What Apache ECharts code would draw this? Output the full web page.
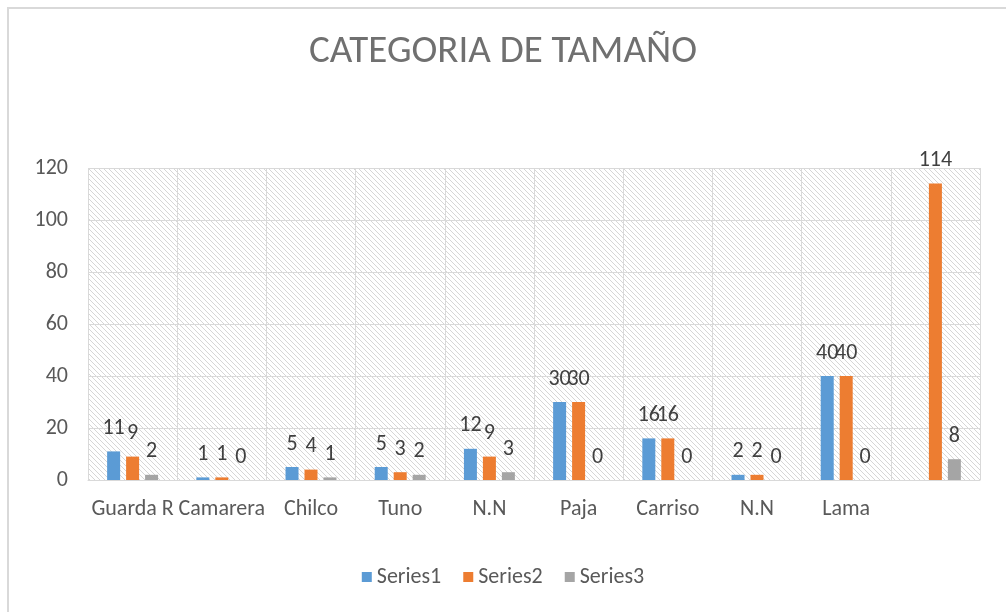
<!DOCTYPE html>
<html>
<head>
<meta charset="utf-8">
<script src="https://cdn.jsdelivr.net/npm/echarts@6/dist/echarts.min.js"></script>
<style>
  html, body { margin: 0; padding: 0; background: #fff; }
  #chart { width: 1006px; height: 612px; }
</style>
</head>
<body>
<div id="chart"></div>
<script>
// datos
var categorias = ['Guarda R', 'Camarera', 'Chilco', 'Tuno', 'N.N', 'Paja', 'Carriso', 'N.N', 'Lama', '']
var series1 = [11, 1, 5, 5, 12, 30, 16, 2, 40, null]
var series2 = [9, 1, 4, 3, 9, 30, 16, 2, 40, 114]
var series3 = [2, 0, 1, 2, 3, 0, 0, 0, 0, 8]
var yTicks = [0, 20, 40, 60, 80, 100, 120]

var FONT = 'Carlito, Lato, sans-serif'

// fondo rayado del area de trazado
function hatch() {
  var c = document.createElement('canvas')
  c.width = 5
  c.height = 5
  var ctx = c.getContext('2d')
  ctx.fillStyle = '#ffffff'
  ctx.fillRect(0, 0, 5, 5)
  ctx.fillStyle = '#d6d6d6'
  for (var i = 0; i < 5; i++) {
    ctx.fillRect(i, i, 1, 1)
  }
  return c
}

function barSerie(name, data, color) {
  return {
    name: name,
    type: 'bar',
    data: data,
    barWidth: 13,
    barGap: '46%',
    itemStyle: { color: color },
    label: {
      show: true,
      position: 'top',
      distance: 12,
      color: '#404040',
      fontSize: 22,
      fontFamily: FONT
    }
  }
}

var chart = echarts.init(document.getElementById('chart'))
chart.setOption({
  animation: false,
  backgroundColor: '#ffffff',
  title: {
    text: 'CATEGORIA DE TAMAÑO',
    left: 'center',
    top: 28,
    textStyle: { color: '#707070', fontSize: 39, fontWeight: 'normal', fontFamily: FONT }
  },
  graphic: [{
    type: 'rect',
    shape: { x: 8, y: 8, width: 1010, height: 620 },
    style: { fill: 'none', stroke: '#d9d9d9', lineWidth: 2 },
    silent: true
  }],
  grid: {
    left: 88,
    right: 26,
    top: 168,
    bottom: 132,
    show: true,
    borderWidth: 0,
    backgroundColor: { image: hatch(), repeat: 'repeat' }
  },
  legend: {
    data: ['Series1', 'Series2', 'Series3'],
    bottom: 19,
    left: 'center',
    icon: 'rect',
    itemWidth: 10,
    itemHeight: 10,
    itemGap: 22,
    textStyle: { color: '#595959', fontSize: 22, fontFamily: FONT }
  },
  xAxis: {
    type: 'category',
    data: categorias,
    axisLine: { lineStyle: { color: '#d9d9d9', width: 1 } },
    axisTick: { show: false },
    axisLabel: { color: '#595959', fontSize: 22, fontFamily: FONT, margin: 18, interval: 0 },
    splitLine: { show: true, interval: 0, lineStyle: { color: '#d9d9d9', width: 1 } }
  },
  yAxis: {
    type: 'value',
    min: yTicks[0],
    max: yTicks[yTicks.length - 1],
    interval: 20,
    axisLine: { show: false },
    axisTick: { show: false },
    axisLabel: { color: '#595959', fontSize: 22, fontFamily: FONT, margin: 20 },
    splitLine: { lineStyle: { color: '#d9d9d9', width: 1 } }
  },
  series: [
    barSerie('Series1', series1, '#5b9bd5'),
    barSerie('Series2', series2, '#ed7d31'),
    barSerie('Series3', series3, '#a5a5a5')
  ]
})
</script>
</body>
</html>
